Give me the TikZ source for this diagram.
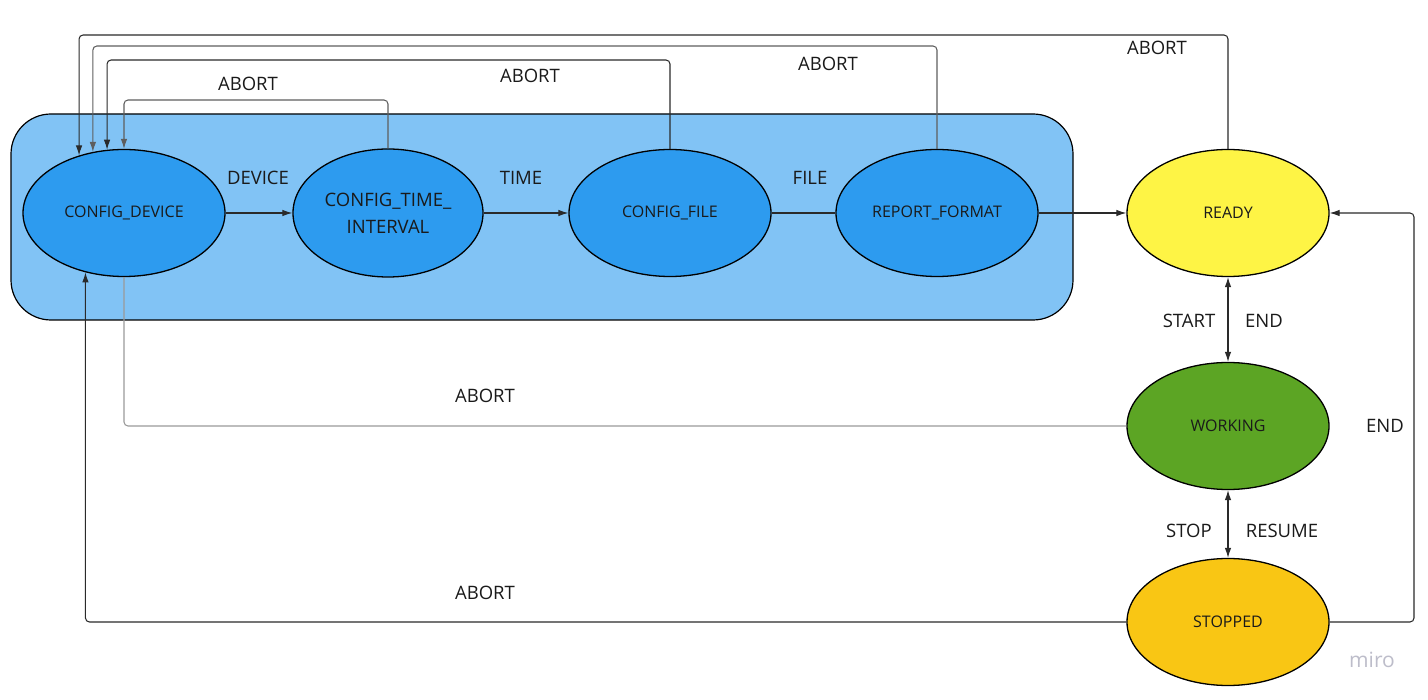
\documentclass[tikz,border=0pt]{standalone}
\usepackage{fontspec}
\setmainfont{Open Sans}
\usetikzlibrary{arrows.meta,shapes.geometric}
\definecolor{grpfill}{HTML}{81C3F5}
\definecolor{stblue}{HTML}{2D9BEF}
\definecolor{styellow}{HTML}{FEF445}
\definecolor{stgreen}{HTML}{5CA524}
\definecolor{storange}{HTML}{F9C614}
\definecolor{txt}{HTML}{1A1A1A}
\definecolor{lndark}{HTML}{2A2A2A}
\definecolor{lngray}{HTML}{5E5E5E}
\definecolor{lnlight}{HTML}{9A9A9A}
\definecolor{mirogray}{HTML}{BDBDCA}
\begin{document}
\begin{tikzpicture}[x=1pt,y=-1pt,
  state/.style={ellipse,draw=black,line width=1.3pt,minimum width=202pt,minimum height=127pt,inner sep=0pt,text=txt,font=\fontsize{16}{19}\selectfont,align=center},
  grp/.style={draw=black,line width=1.2pt,fill=grpfill,rounded corners=40pt,minimum width=1062pt,minimum height=206pt,inner sep=0pt},
  lbl/.style={text=txt,font=\fontsize{18.5}{22}\selectfont,inner sep=0pt},
  conn/.style={draw=lndark,line width=1.05pt,rounded corners=4pt},
  conngray/.style={draw=lngray,line width=1.05pt,rounded corners=4pt},
  connlight/.style={draw=lnlight,line width=1.05pt,rounded corners=4pt},
  tip/.style={-{Latex[length=10pt,width=6.5pt]}},
  dtip/.style={{Latex[length=10pt,width=6.5pt]}-{Latex[length=10pt,width=6.5pt]}}
]
\useasboundingbox (0,0) rectangle (1428,700);
\fill[white] (0,0) rectangle (1428,700);

% group container
\node[grp] (group) at (542,217) {};

% states
\node[state,fill=stblue] (cdev) at (124,213) {CONFIG\_DEVICE};
\node[state,fill=stblue,minimum width=190pt,minimum height=128pt,font=\fontsize{18.5}{27}\selectfont] (ctime) at (388,213) {CONFIG\_TIME\_\\INTERVAL};
\node[state,fill=stblue] (cfile) at (670,213) {CONFIG\_FILE};
\node[state,fill=stblue] (rfmt) at (937,213) {REPORT\_FORMAT};
\node[state,fill=styellow] (ready) at (1228,213) {READY};
\node[state,fill=stgreen] (working) at (1228,426) {WORKING};
\node[state,fill=storange] (stopped) at (1228,622) {STOPPED};

% forward transitions
\draw[conn,tip] (cdev.east) -- (ctime.west);
\draw[conn,tip] (ctime.east) -- (cfile.west);
\draw[conn] (cfile.east) -- (rfmt.west);
\draw[conn,tip] (rfmt.east) -- (ready.west);
\node[lbl] (lDevice) at (258,178) {DEVICE};
\node[lbl] (lTime) at (521,178) {TIME};
\node[lbl] (lFile) at (810,178) {FILE};

% abort connectors to CONFIG_DEVICE top
\coordinate (a1) at (cdev.128.4 |- 0,35);
\coordinate (a2) at (cdev.117.2 |- 0,46);
\coordinate (a3) at (cdev.105.2 |- 0,60);
\coordinate (a4) at (cdev.north |- 0,100);
\draw[conn,tip] (ready.north) |- (a1) -- (cdev.128.4);
\draw[conngray,tip] (rfmt.north) |- (a2) -- (cdev.117.2);
\draw[conn,tip] (cfile.north) |- (a3) -- (cdev.105.2);
\draw[conngray,tip] (ctime.north) |- (a4) -- (cdev.north);
\node[lbl] (lAb1) at (1157,48) {ABORT};
\node[lbl] (lAb2) at (828,64) {ABORT};
\node[lbl] (lAb3) at (530,76) {ABORT};
\node[lbl] (lAb4) at (248,84) {ABORT};

% abort from WORKING and STOPPED
\draw[connlight] (working.west) -| (cdev.south);
\draw[conn,tip] (stopped.west) -| (cdev.237.1);
\node[lbl] (lAb5) at (485,396) {ABORT};
\node[lbl] (lAb6) at (485,593) {ABORT};

% ready / working / stopped
\draw[conn,dtip] (ready.south) -- (working.north);
\draw[conn,dtip] (working.south) -- (stopped.north);
\node[lbl] (lStart) at (1189,321) {START};
\node[lbl] (lEnd1) at (1264,321) {END};
\node[lbl] (lStop) at (1189,531) {STOP};
\node[lbl] (lResume) at (1282,531) {RESUME};

\coordinate (rr) at (1414,0);
\draw[conn,tip] (stopped.east) -| (rr |- ready.east) -- (ready.east);
\node[lbl] (lEnd2) at (1385,426) {END};

% watermark
\node[text=mirogray,font=\fontsize{21}{24}\selectfont,inner sep=0pt] (miro) at (1372,660) {miro};
\end{tikzpicture}
\end{document}
